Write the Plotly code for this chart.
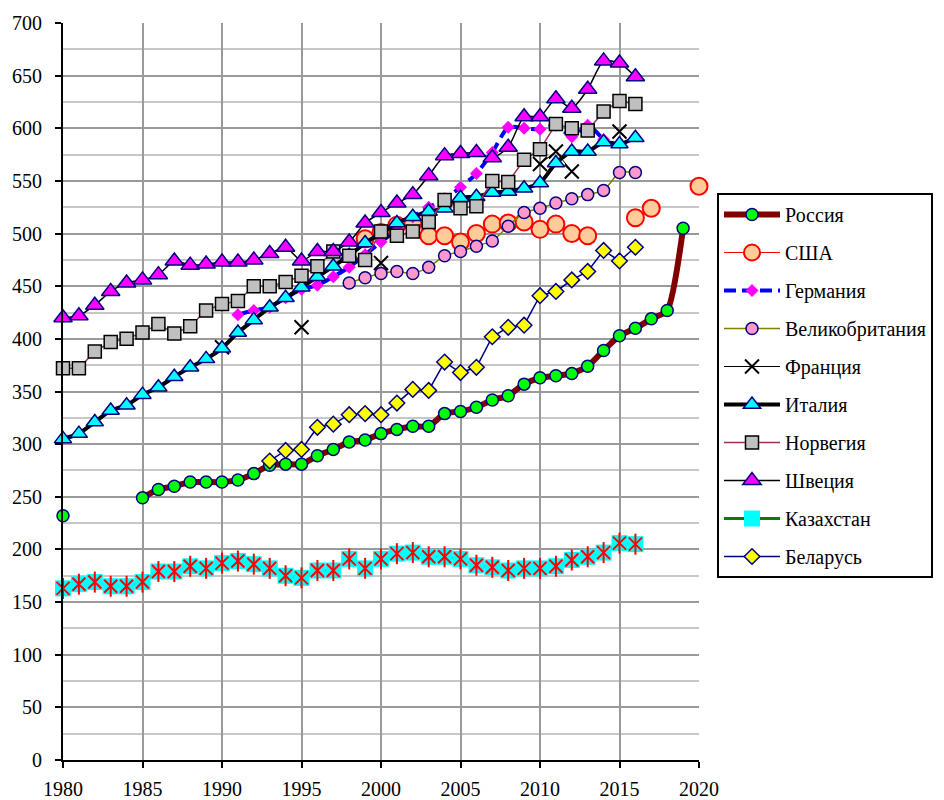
import plotly.graph_objects as go

# ---------------- data ----------------
russia_years = list(range(1980, 2020))
russia_vals = [232, None, None, None, None,
               249, 257, 260, 264, 264, 264, 266, 272, 280, 281, 281, 289, 295, 302, 304,
               310, 314, 317, 317, 329, 331, 335, 342, 346, 357, 363, 365, 367, 374, 389, 403,
               410, 419, 427, 505]

usa_years = list(range(1999, 2021))
usa_vals = [495, 501, 508, 510, 498, 498, 492, 500, 509, 510, 511, 504, 509, 500, 498,
            None, None, 515, 524, None, None, 545]

germany_years = list(range(1991, 2015))
germany_vals = [423, 427, 430, 439, 447, 451, 459, 468, 480, 492, 504, 516, 525, 533, 544,
                557, 577, 601, 600, 599, 603, 592, 603, 589]

uk_years = list(range(1998, 2017))
uk_vals = [453, 458, 462, 464, 462, 468, 479, 483, 488, 493, 507, 520, 524, 529, 533, 537,
           541, 558, 558]

france_years = [1990, 1991, 1995, 1996, 2000, 2001, 2010, 2011, 2012, 2013, 2015]
france_vals = [392, None, 411, None, 472, None, 566, 578, 559, None, 597]

italy_years = list(range(1980, 2017))
italy_vals = [305, 310, 321, 332, 337, 347, 354, 364, 373, 381, 391, 406, 418, 430, 439, 449,
              459, 469, 479, 491, 500, 510, 516, 521, 524, 534, 535, 539, 540, 543, 548, 567,
              578, 578, 587, 585, 591]

norway_years = list(range(1980, 2017))
norway_vals = [372, 372, 388, 397, 400, 406, 414, 405, 412, 427, 433, 436, 450, 450, 454, 460,
               469, 483, 479, 475, 502, 498, 502, 511, 532, 524, 526, 550, 549, 570, 580, 604,
               600, 598, 616, 626, 623]

sweden_years = list(range(1980, 2017))
sweden_vals = [420, 422, 432, 445, 453, 456, 461, 474, 470, 471, 473, 473, 475, 481, 487, 474,
               483, 483, 492, 510, 520, 529, 537, 555, 574, 576, 577, 572, 582, 611, 611, 628,
               619, 637, 664, 662, 649]

kaz_years = list(range(1980, 2017))
kaz_vals = [163, 167, 169, 165, 165, 169, 179, 179, 184, 182, 187, 189, 186, 182, 175, 173,
            180, 180, 191, 182, 191, 196, 197, 193, 193, 191, 185, 183, 180, 182, 182, 184,
            190, 193, 197, 206, 205]

belarus_years = list(range(1993, 2017))
belarus_vals = [284, 294, 295, 316, 319, 328, 329, 328, 339, 352, 351, 378, 368, 373, 402,
                411, 413, 441, 445, 456, 464, 484, 474, 487]

names = ["Россия", "США", "Германия", "Великобритания", "Франция", "Италия",
         "Норвегия", "Швеция", "Казахстан", "Беларусь"]

x_ticks = [1980, 1985, 1990, 1995, 2000, 2005, 2010, 2015, 2020]
y_ticks = list(range(0, 701, 50))

# ---------------- figure ----------------
FONT = "Liberation Serif, Times New Roman, serif"
SM = 0.6
fig = go.Figure()


def add(name, xs, ys, line, marker, group, show=True, shape="spline"):
    fig.add_trace(go.Scatter(
        x=xs, y=ys, name=name, mode="lines+markers",
        line=dict(shape=shape, smoothing=SM if shape == "spline" else None, **line),
        marker=marker, connectgaps=False, legendgroup=group, showlegend=show,
        cliponaxis=False,
    ))


add(names[0], russia_years, russia_vals,
    dict(color="#800000", width=6),
    dict(symbol="circle", size=12, color="#00FF00", line=dict(color="#000080", width=1.5)), "g0")
add(names[1], usa_years, usa_vals,
    dict(color="#FF0000", width=1),
    dict(symbol="circle", size=17, color="#FFCC99", line=dict(color="#FF0000", width=2)), "g1")
add(names[2], germany_years, germany_vals,
    dict(color="#0000FF", width=4, dash="12px,6px"),
    dict(symbol="diamond", size=10, color="#FF00FF", line=dict(width=0)), "g2")
add(names[3], uk_years, uk_vals,
    dict(color="#808000", width=1.5),
    dict(symbol="circle", size=12, color="#FF99CC", line=dict(color="#000080", width=1.5)), "g3")
add(names[4], france_years, france_vals,
    dict(color="#000000", width=1),
    dict(symbol="x-thin", size=14, color="#000000", line=dict(color="#000000", width=2)), "g4",
    shape="linear")
add(names[5], italy_years, italy_vals,
    dict(color="#000000", width=4),
    dict(symbol="triangle-up", size=15, color="#00FFFF", line=dict(color="#000080", width=1.5)), "g5")
add(names[6], norway_years, norway_vals,
    dict(color="#993366", width=1.5),
    dict(symbol="square", size=13, color="#C0C0C0", line=dict(color="#000000", width=1.5)), "g6",
    shape="linear")
add(names[7], sweden_years, sweden_vals,
    dict(color="#000000", width=1.5),
    dict(symbol="triangle-up", size=16, color="#FF00FF", line=dict(color="#000080", width=1.5)), "g7")
add(names[8], kaz_years, kaz_vals,
    dict(color="#008000", width=3),
    dict(symbol="square", size=16, color="#00FFFF", line=dict(width=0)), "g8", shape="linear")
fig.add_trace(go.Scatter(
    x=kaz_years, y=kaz_vals, mode="markers", showlegend=False, legendgroup="g8", cliponaxis=False,
    marker=dict(symbol="x-thin-open", size=13, color="#FF0000", line=dict(color="#FF0000", width=2))))
fig.add_trace(go.Scatter(
    x=kaz_years, y=kaz_vals, mode="markers", showlegend=False, legendgroup="g8", cliponaxis=False,
    marker=dict(symbol="line-ns-open", size=15, color="#FF0000", line=dict(color="#FF0000", width=2))))
add(names[9], belarus_years, belarus_vals,
    dict(color="#000080", width=1.5),
    dict(symbol="diamond", size=12, color="#FFFF00", line=dict(color="#000080", width=1.5)), "g9",
    shape="linear")

fig.update_layout(
    width=944, height=800,
    margin=dict(l=63, r=245, t=23, b=40, autoexpand=False),
    paper_bgcolor="white", plot_bgcolor="white",
    font=dict(family=FONT, size=20, color="black"),
    legend=dict(
        xref="container", yref="container",
        x=717 / 944, y=(800 - 193) / 800, xanchor="left", yanchor="top",
        bgcolor="white", bordercolor="black", borderwidth=2,
        font=dict(family=FONT, size=20, color="black"),
        traceorder="grouped", tracegroupgap=9, itemwidth=56,
    ),
    showlegend=True,
)
fig.update_xaxes(
    range=[1980, 2020], tickvals=x_ticks, ticktext=[str(v) for v in x_ticks],
    showgrid=True, gridcolor="#9A9A9A", gridwidth=2,
    showline=True, linecolor="black", linewidth=2,
    ticks="outside", ticklen=6, tickwidth=2, tickcolor="black",
    ticklabelstandoff=4, zeroline=False, automargin=False,
    tickfont=dict(family=FONT, size=20, color="black"),
)
fig.update_yaxes(
    range=[0, 700], tickvals=y_ticks, ticktext=[str(v) for v in y_ticks],
    showgrid=True, gridcolor="#9A9A9A", gridwidth=2,
    minor=dict(dtick=25, showgrid=True, gridcolor="#C8C8C8", gridwidth=2),
    showline=True, linecolor="black", linewidth=2,
    ticks="outside", ticklen=6, tickwidth=2, tickcolor="black",
    ticklabelstandoff=9, zeroline=False, automargin=False,
    tickfont=dict(family=FONT, size=20, color="black"),
)

fig.write_html("out.html", config={"displayModeBar": False},
               post_script="document.body.style.margin='0px';")
